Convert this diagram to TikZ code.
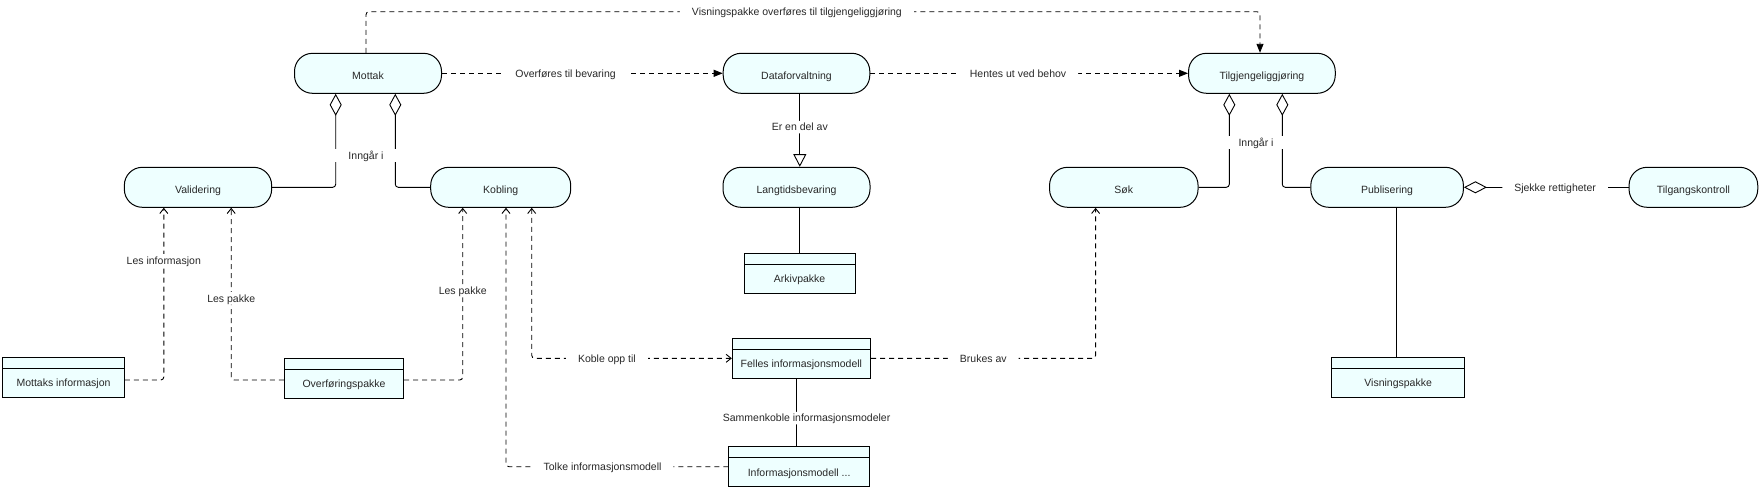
\documentclass[tikz,border=0pt]{standalone}
\usepackage{fontspec}
\setmainfont{Liberation Sans}
\usetikzlibrary{arrows.meta}
\definecolor{boxfill}{RGB}{238,255,255}
\definecolor{txt}{RGB}{40,40,40}
\begin{document}
\begin{tikzpicture}[x=1pt,y=-1pt,
  every node/.style={font=\fontsize{10.5pt}{12pt}\selectfont, text=txt},
  rnd/.style={draw, fill=boxfill, line width=1pt, rounded corners=18pt, minimum height=40pt, inner sep=0pt, text height=12pt, text depth=0pt},
  cls/.style={draw, fill=boxfill, line width=1pt, minimum height=40pt, inner sep=0pt, text height=19pt, text depth=0pt,
    path picture={\draw[line width=1pt] ([yshift=-11pt]path picture bounding box.north west) -- ([yshift=-11pt]path picture bounding box.north east);}},
  lbl/.style={fill=white, inner xsep=12pt, inner ysep=2.5pt, text height=7.5pt, text depth=0pt},
  conn/.style={line width=0.9pt, rounded corners=3pt},
  dep/.style={conn, dash pattern=on 5pt off 4pt, -{Straight Barb[length=5pt,width=8pt]}},
  depboth/.style={conn, dash pattern=on 5pt off 4pt, {Straight Barb[length=5pt,width=8pt]}-{Straight Barb[length=5pt,width=8pt]}},
  flow/.style={conn, dash pattern=on 5pt off 4pt, -{Triangle[length=9pt,width=7pt]}},
  agg/.style={conn, -{Diamond[fill=white,length=22pt,width=12pt]}},
  aggs/.style={conn, {Diamond[fill=white,length=23pt,width=12pt]}-},
  gen/.style={conn, -{Triangle[fill=white,length=12.7pt,width=13pt]}},
  plain/.style={conn}
]
\useasboundingbox (0,0) rectangle (1761,490);

% rounded activity boxes
\node[rnd, minimum width=147pt] (mot) at (368,73.3) {Mottak};
\node[rnd, minimum width=146.6pt] (dat) at (796.5,73.3) {Dataforvaltning};
\node[rnd, minimum width=146.7pt] (tilg) at (1261.9,73.3) {Tilgjengeliggjøring};
\node[rnd, minimum width=147.3pt] (val) at (198,187.3) {Validering};
\node[rnd, minimum width=140pt] (kob) at (500.7,187.3) {Kobling};
\node[rnd, minimum width=147pt] (lang) at (796.5,187.3) {Langtidsbevaring};
\node[rnd, minimum width=148.5pt] (sok) at (1123.8,187.3) {Søk};
\node[rnd, minimum width=152.6pt] (pub) at (1387.1,187.3) {Publisering};
\node[rnd, minimum width=128.7pt] (tk) at (1693.4,187.3) {Tilgangskontroll};

% class boxes
\node[cls, minimum width=121.7pt] (mi) at (63.5,377.3) {Mottaks informasjon};
\node[cls, minimum width=119.4pt] (op) at (344,378.3) {Overføringspakke};
\node[cls, minimum width=111pt] (ark) at (799.6,273.3) {Arkivpakke};
\node[cls, minimum width=138.2pt] (fim) at (801.4,358.3) {Felles informasjonsmodell};
\node[cls, minimum width=140.4pt] (im) at (799.1,466.7) {Informasjonsmodell ...};
\node[cls, minimum width=133.2pt] (vp) at (1398.1,377.3) {Visningspakke};

% top flow
\draw[flow] ([xshift=-2pt]mot.north) -- (366,11.7) -- node[lbl,pos=0.482]{Visningspakke overføres til tilgjengeliggjøring} (1260,11.7) -- (1260,0 |- tilg.north);
\draw[flow] (mot.east) -- node[lbl,pos=0.44]{Overføres til bevaring} (dat.west);
\draw[flow] (dat.east) -- node[lbl,pos=0.465]{Hentes ut ved behov} (tilg.west);

% generalisation and plain links
\draw[gen] (799.8,0 |- dat.south) -- node[lbl,pos=0.455]{Er en del av} (799.8,0 |- lang.north);
\draw[plain] (799.3,0 |- lang.south) -- (799.3,0 |- ark.north);
\draw[plain] (796.6,0 |- fim.south) -- node[lbl,pos=0.585,xshift=10pt]{Sammenkoble informasjonsmodeler} (796.6,0 |- im.north);
\draw[plain] (1396,0 |- pub.south) -- (1396,0 |- vp.north);

% aggregations
\draw[agg] (val.east) -| ([xshift=-32.3pt]mot.south);
\draw[agg] (kob.west) -| ([xshift=27.3pt]mot.south);
\node[lbl, minimum width=68pt] (inn1) at (366,155.5) {Inngår i};
\draw[agg] (sok.east) -| ([xshift=-32.6pt]tilg.south);
\draw[agg] (pub.west) -| ([xshift=20.4pt]tilg.south);
\node[lbl, minimum width=62pt] (inn2) at (1256,142.5) {Inngår i};
\draw[aggs] (pub.east) -- node[lbl,pos=0.554]{Sjekke rettigheter} (tk.west);

% dependencies
\draw[dep] ([yshift=-2.7pt]mi.east) -| node[lbl,pos=0.847]{Les informasjon} (163.8,0 |- val.south);
\draw[dep] ([yshift=-1.7pt]op.west) -| node[lbl,pos=0.737]{Les pakke} (231.2,0 |- val.south);
\draw[dep] ([yshift=-1.7pt]op.east) -| node[lbl,pos=0.758]{Les pakke} (462.7,0 |- kob.south);
\draw[dep] (im.west) -| node[lbl,pos=0.283]{Tolke informasjonsmodell} (506,0 |- kob.south);
\draw[depboth] (531.7,0 |- kob.south) |- node[lbl,pos=0.688]{Koble opp til} (fim.west);
\draw[dep] (fim.east) -| node[lbl,pos=0.25]{Brukes av} (1095.6,0 |- sok.south);
\end{tikzpicture}
\end{document}
